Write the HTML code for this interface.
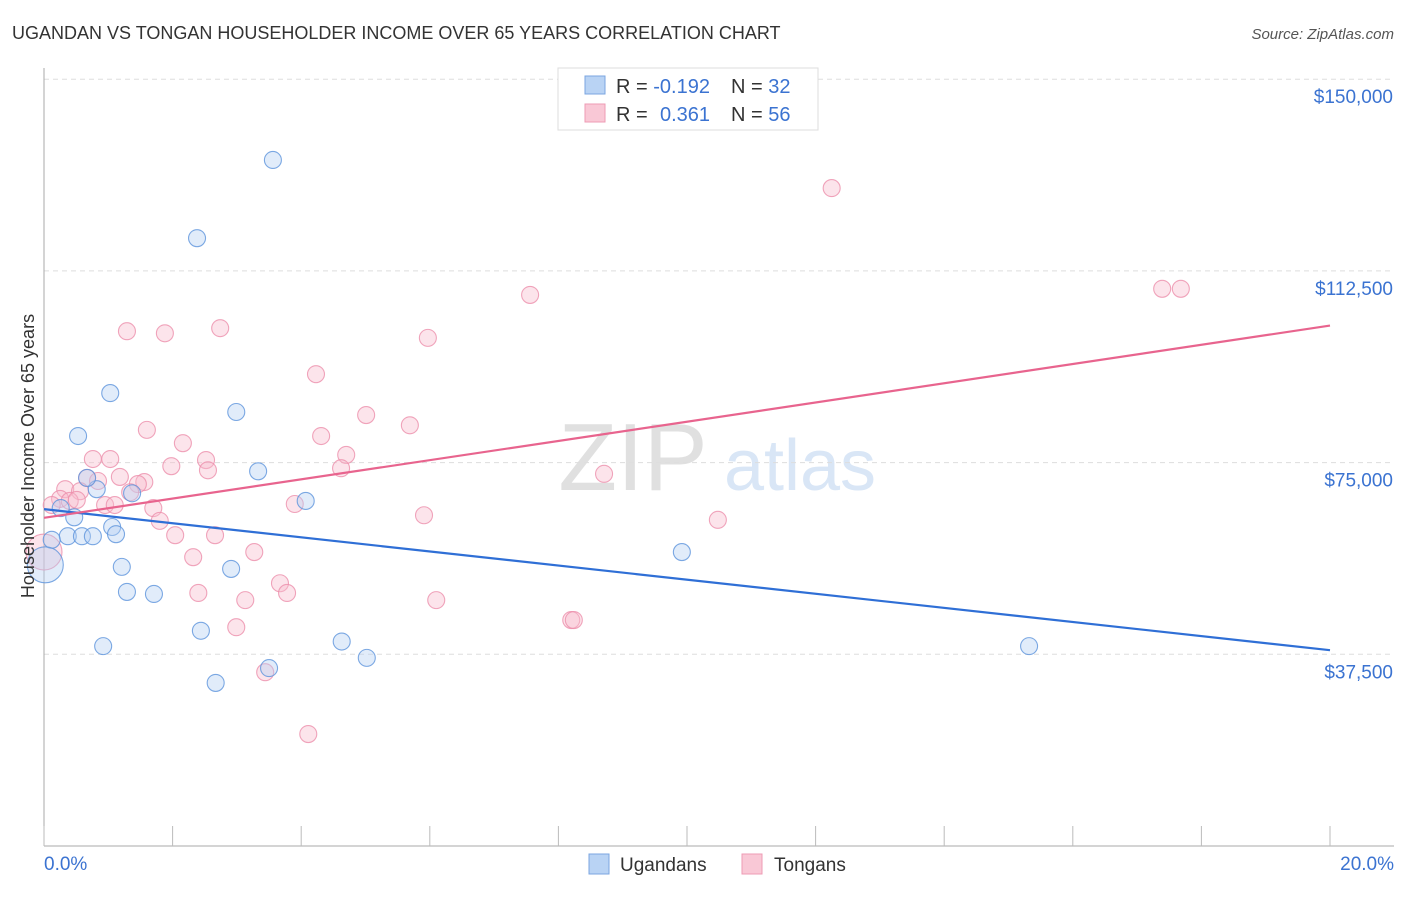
<!DOCTYPE html>
<html><head><meta charset="utf-8"><style>
body{margin:0;background:#fff;font-family:"Liberation Sans",sans-serif}
svg text{font-family:"Liberation Sans",sans-serif}
</style></head><body>
<svg id="c" width="1406" height="892" xmlns="http://www.w3.org/2000/svg">
<text x="12" y="39" font-size="18" fill="#333">UGANDAN VS TONGAN HOUSEHOLDER INCOME OVER 65 YEARS CORRELATION CHART</text>
<text x="1394" y="39" font-size="15" fill="#555" text-anchor="end" font-style="italic">Source: ZipAtlas.com</text>
<text x="633" y="490" font-size="96" fill="#e0e0e0" font-family="Liberation Serif" text-anchor="middle">ZIP</text>
<text x="800" y="490" font-size="72" fill="#d9e6f6" text-anchor="middle">atlas</text>
<g id="grid"></g><g id="axes"></g><g id="marks"></g>
<text transform="translate(34,456) rotate(-90)" font-size="18" fill="#333" text-anchor="middle">Householder Income Over 65 years</text>
<g>
<rect x="558" y="68" width="260" height="62" fill="#fff" stroke="#ddd"/>
<rect x="585" y="76" width="20" height="18" fill="#b9d3f4" stroke="#7ba6e0"/>
<rect x="585" y="104" width="20" height="18" fill="#f9c8d6" stroke="#ee9bb4"/>
<text x="616" y="93" font-size="20" fill="#333">R = <tspan fill="#3b73d1">-0.192</tspan><tspan x="731">N = </tspan><tspan fill="#3b73d1">32</tspan></text>
<text x="616" y="121" font-size="20" fill="#333">R = <tspan x="660" fill="#3b73d1">0.361</tspan><tspan x="731">N = </tspan><tspan fill="#3b73d1">56</tspan></text>
</g>
<g>
<rect x="589" y="854" width="20" height="20" fill="#b9d3f4" stroke="#7ba6e0"/>
<text x="620" y="871" font-size="19" fill="#333">Ugandans</text>
<rect x="742" y="854" width="20" height="20" fill="#f9c8d6" stroke="#ee9bb4"/>
<text x="774" y="871" font-size="19" fill="#333">Tongans</text>
</g>
</svg>
<script>
const yTicks=[37500,75000,112500,150000];
const yTickLabels=["$37,500","$75,000","$112,500","$150,000"];
const xTickLabels=["0.0%","20.0%"];
const blueX=[3.56,2.38,1.03,2.99,0.53,3.33,4.07,0.82,0.67,1.37,0.26,0.47,1.06,1.12,0.37,0.59,0.76,0.12,1.21,2.91,1.29,1.71,2.44,0.92,4.63,5.02,3.50,2.67,9.92,15.32,0.02];
const blueY=[134.2,118.9,88.6,84.9,80.2,73.3,67.5,69.8,72.0,69.0,66.1,64.3,62.4,61.0,60.6,60.6,60.6,59.9,54.6,54.2,49.7,49.3,42.1,39.1,40.0,36.8,34.8,31.9,57.5,39.1,55.0];
const pinkX=[12.25,7.56,17.39,17.68,1.29,1.88,2.74,5.97,4.23,5.01,5.69,1.60,4.31,2.16,0.76,1.03,2.52,4.70,1.98,2.55,4.62,8.71,1.18,1.56,1.46,0.67,0.33,0.84,0.56,0.25,0.40,0.51,0.95,1.10,0.12,3.90,1.70,1.80,5.91,10.48,2.04,2.66,2.32,3.27,0.0,3.67,2.40,3.78,3.13,6.10,2.99,8.20,8.24,3.44,4.11,1.34];
const pinkY=[128.7,107.8,109.0,109.0,100.7,100.3,101.3,99.4,92.3,84.3,82.3,81.4,80.2,78.8,75.7,75.7,75.5,76.5,74.3,73.5,73.9,72.8,72.2,71.2,70.8,72.0,69.8,71.4,69.4,67.9,67.5,67.7,66.7,66.7,66.7,66.9,66.1,63.6,64.7,63.8,60.8,60.8,56.5,57.5,57.5,51.4,49.5,49.5,48.1,48.1,42.8,44.2,44.2,34.0,21.9,69.2];
const blueTrend=[65.9,38.3];
const pinkTrend=[64.2,101.8];
const NS="http://www.w3.org/2000/svg";
const X=p=>44+p/20*1286;
const Y=v=>846-v/37500*191.7;
const Yk=k=>Y(k*1000);
function mk(t,a,parent){const e=document.createElementNS(NS,t);for(const k in a)e.setAttribute(k,a[k]);document.getElementById(parent).appendChild(e);return e;}
yTicks.forEach((v,i)=>{
 const l=mk('line',{x1:44,x2:1394,y1:Y(v),y2:Y(v),stroke:'#ddd','stroke-dasharray':'5,4'},'grid');
 
 
 const t=mk('text',{x:1393,y:Y(v)+24,'font-size':19,fill:'#3b73d1','text-anchor':'end'},'axes');
 t.textContent=yTickLabels[i];
 
 
});
const ax=mk('line',{x1:44,x2:1394,y1:846,y2:846,stroke:'#aaa'},'axes');


const ay=mk('line',{x1:44,x2:44,y1:68,y2:846,stroke:'#aaa'},'axes');


for(let i=0;i<=10;i++){const tk=mk('line',{x1:X(i*2),x2:X(i*2),y1:826,y2:846,stroke:'#bbb'},'axes');
 
 }
xTickLabels.forEach((s,i)=>{const t=mk('text',{x:i?1394:44,y:870,'font-size':19,fill:'#3b73d1','text-anchor':i?'end':'start'},'axes');t.textContent=s;
 
 });
function pts(xs,ys,fill,stroke,name){xs.forEach((x,i)=>{const big=x<0.05;
 const c=mk('circle',{cx:X(x),cy:Yk(ys[i]),r:big?18:8.5,fill:fill,'fill-opacity':0.4,stroke:stroke,'stroke-width':1.1,'stroke-opacity':0.8},'marks');
 
 });}
pts(pinkX,pinkY,'#f7bccd','#ec8fab','tongan-point');
pts(blueX,blueY,'#b3cff2','#5d93dc','ugandan-point');
const bl=mk('line',{x1:X(0),x2:X(20),y1:Yk(blueTrend[0]),y2:Yk(blueTrend[1]),stroke:'#2f6fd6','stroke-width':2.2},'marks');


const pl=mk('line',{x1:X(0),x2:X(20),y1:Yk(pinkTrend[0]),y2:Yk(pinkTrend[1]),stroke:'#e8648e','stroke-width':2.2},'marks');


</script>
</body></html>
